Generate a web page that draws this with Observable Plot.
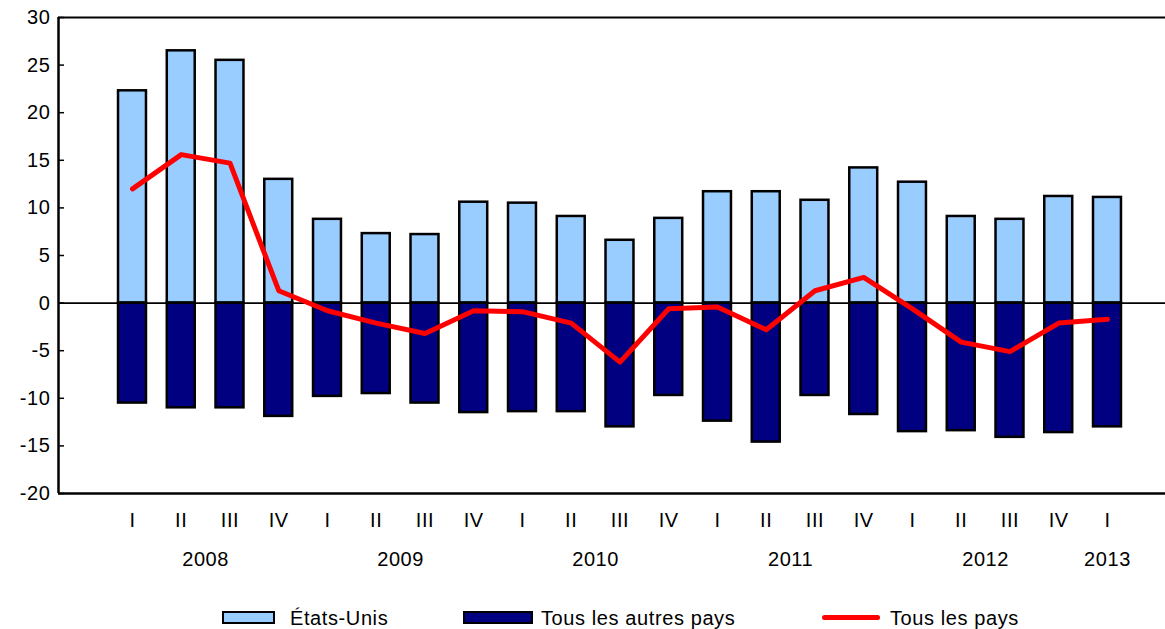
<!DOCTYPE html>
<html>
<head>
<meta charset="utf-8">
<script src="https://cdn.jsdelivr.net/npm/d3@7"></script>
<script src="https://cdn.jsdelivr.net/npm/@observablehq/plot@0.6"></script>
<style>
  html, body { margin: 0; padding: 0; background: #fff; }
  body { width: 1165px; height: 629px; overflow: hidden; font-family: "Liberation Sans", Arial, sans-serif; }
  #chart { position: relative; width: 1165px; height: 600px; }
  #chart svg text { letter-spacing: 0.6px; }
  #legend { position: relative; width: 1165px; height: 29px; font-size: 20px; letter-spacing: 0.6px; color: #000; }
  #legend .sw { position: absolute; box-sizing: border-box; border: 2px solid #000; }
  #legend .ln { position: absolute; height: 5px; background: #ff0000; border-radius: 3px; }
  #legend .lb { position: absolute; line-height: 20px; white-space: nowrap; }
</style>
</head>
<body>
<div id="chart"></div>
<div id="legend"></div>
<script>
// ---- Data ----
const quarters = ["I","II","III","IV","I","II","III","IV","I","II","III","IV","I","II","III","IV","I","II","III","IV","I"];
const years = ["2008","2009","2010","2011","2012","2013"];
const yearStart = [0, 4, 8, 12, 16, 20];
const yearCount = [4, 4, 4, 4, 4, 1];
const etatsUnis = [22.3, 26.5, 25.5, 13.0, 8.8, 7.3, 7.2, 10.6, 10.5, 9.1, 6.6, 8.9, 11.7, 11.7, 10.8, 14.2, 12.7, 9.1, 8.8, 11.2, 11.1];
const autresPays = [-10.5, -11.0, -11.0, -11.9, -9.8, -9.5, -10.5, -11.5, -11.4, -11.4, -13.0, -9.7, -12.4, -14.6, -9.7, -11.7, -13.5, -13.4, -14.1, -13.6, -13.0];
const tousPays = [12.0, 15.6, 14.7, 1.3, -0.8, -2.1, -3.2, -0.8, -0.9, -2.1, -6.2, -0.6, -0.4, -2.8, 1.3, 2.7, -0.6, -4.1, -5.1, -2.1, -1.7];
const yTicks = [-20, -15, -10, -5, 0, 5, 10, 15, 20, 25, 30];
const yDomain = [-20, 30];
const xDomain = [-1.018, 21.69];
const labels = ["États-Unis", "Tous les autres pays", "Tous les pays"];
const colors = ["#99CCFF", "#000080", "#FF0000"];

// ---- Tables built from arrays ----
const rows = quarters.map((q, i) => ({i, q, us: etatsUnis[i], other: autresPays[i], all: tousPays[i]}));
const yearRows = years.map((y, k) => ({year: y, mid: yearStart[k] + yearCount[k] / 2}));

const font = "Liberation Sans, Arial, sans-serif";

const chart = Plot.plot({
  width: 1165,
  height: 600,
  marginLeft: 58,
  marginRight: 0,
  marginTop: 17,
  marginBottom: 107,
  style: {fontFamily: font, fontSize: "20px", color: "#000", background: "#fff", overflow: "visible"},
  x: {type: "linear", domain: xDomain, axis: null},
  y: {domain: yDomain, axis: null},
  marks: [
    Plot.rectY(rows, {x1: "i", x2: d => d.i + 1, y1: 0, y2: "us", fill: colors[0], stroke: "#000", strokeWidth: 2.5, insetLeft: 10.4, insetRight: 10.4}),
    Plot.rectY(rows, {x1: "i", x2: d => d.i + 1, y1: 0, y2: "other", fill: colors[1], stroke: "#000", strokeWidth: 2.5, insetLeft: 10.4, insetRight: 10.4}),
    Plot.ruleY([0], {stroke: "#000", strokeWidth: 1.6}),
    Plot.ruleY([yDomain[1]], {stroke: "#000", strokeWidth: 2}),
    Plot.ruleY([yDomain[0]], {stroke: "#000", strokeWidth: 2.5}),
    Plot.ruleX([xDomain[0]], {stroke: "#000", strokeWidth: 2.5}),
    Plot.axisY({ticks: yTicks, tickSize: 6, text: null, dx: 6, stroke: "#000", strokeWidth: 1.5}),
    Plot.axisY({ticks: yTicks, tickSize: 0, tickPadding: 8, tickFormat: d => String(d), fill: "#000", fontSize: 20}),
    Plot.line(rows, {x: d => d.i + 0.5, y: "all", stroke: colors[2], strokeWidth: 5, strokeLinejoin: "round", strokeLinecap: "round"}),
    Plot.text(rows, {x: d => d.i + 0.5, text: "q", frameAnchor: "bottom", lineAnchor: "middle", dy: 27, fill: "#000", fontSize: 20}),
    Plot.text(yearRows, {x: "mid", text: "year", frameAnchor: "bottom", lineAnchor: "middle", dy: 66, fill: "#000", fontSize: 20})
  ]
});
document.getElementById("chart").appendChild(chart);

// ---- Legend ----
const legend = document.getElementById("legend");
const items = [
  {kind: "rect", sx: 222, sw: 53, tx: 290},
  {kind: "rect", sx: 463, sw: 70, tx: 541},
  {kind: "line", sx: 822, sw: 58, tx: 890}
];
items.forEach((it, k) => {
  const s = document.createElement("div");
  if (it.kind === "rect") {
    s.className = "sw";
    s.style.left = it.sx + "px"; s.style.top = "11px"; s.style.width = it.sw + "px"; s.style.height = "13px";
    s.style.background = colors[k];
  } else {
    s.className = "ln";
    s.style.left = it.sx + "px"; s.style.top = "15px"; s.style.width = it.sw + "px";
  }
  legend.appendChild(s);
  const t = document.createElement("div");
  t.className = "lb";
  t.style.left = it.tx + "px"; t.style.top = "8px";
  t.textContent = labels[k];
  legend.appendChild(t);
});
</script>
</body>
</html>
